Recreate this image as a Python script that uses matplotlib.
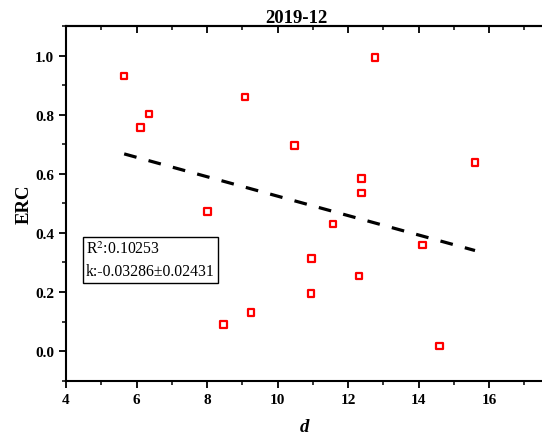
import matplotlib
matplotlib.use("Agg")
import matplotlib.pyplot as plt
from matplotlib.ticker import MultipleLocator
import numpy as np

plt.rcParams['font.family'] = ['Liberation Serif', 'DejaVu Serif']
plt.rcParams['mathtext.fontset'] = 'stix'

# data
d = [5.65, 6.12, 6.36, 8.01, 8.47, 9.07, 9.25, 10.48, 10.95, 10.96,
     11.57, 12.31, 12.38, 12.38, 12.77, 14.11, 14.60, 15.60]
erc = [0.931, 0.756, 0.803, 0.472, 0.090, 0.860, 0.130, 0.696, 0.195, 0.314,
       0.430, 0.254, 0.584, 0.535, 0.994, 0.359, 0.017, 0.639]

fit_k = -0.03286
fit_b = 0.853
r2_text = "R$^2$:0.10253"
k_text = "k:-0.03286\u00b10.02431"
title = "2019-12"

fig = plt.figure(figsize=(5.42, 4.35), dpi=100)
ax = fig.add_axes([66 / 542, 53.3 / 435, 476 / 542, 354.7 / 435])

ax.scatter(d, erc, marker='s', s=22, facecolors='none', edgecolors='red',
           linewidths=1.6, zorder=3)

xs = np.array([min(d), max(d)])
ax.plot(xs, fit_k * xs + fit_b, color='black', lw=2.3, ls=(0, (4.0, 3.9)),
        zorder=2)

ax.set_xlim(4, 17.5)
ax.set_ylim(-0.1, 1.1)
ax.xaxis.set_major_locator(MultipleLocator(2))
ax.xaxis.set_minor_locator(MultipleLocator(1))
ax.yaxis.set_major_locator(MultipleLocator(0.2))
ax.yaxis.set_minor_locator(MultipleLocator(0.1))
ax.tick_params(which='major', direction='out', length=5, width=1.3,
               labelsize=11)
ax.tick_params(which='minor', direction='out', length=3, width=1.1)
for lab in ax.get_xticklabels() + ax.get_yticklabels():
    lab.set_fontweight('bold')

top = ax.secondary_xaxis('top')
top.xaxis.set_major_locator(MultipleLocator(2))
top.xaxis.set_minor_locator(MultipleLocator(1))
top.tick_params(which='major', direction='in', length=5, width=1.3,
                labeltop=False)
top.tick_params(which='minor', direction='in', length=3, width=1.1)
top.spines['top'].set_linewidth(1.5)

for s in ['left', 'bottom', 'top']:
    ax.spines[s].set_linewidth(1.5)
ax.spines['right'].set_visible(False)

ax.set_title(title, fontsize=13.5, fontweight='bold', pad=3, x=0.483)
ax.set_ylabel("ERC", fontsize=13.5, fontweight='bold', labelpad=2)
ax.set_xlabel("d", fontsize=13.5, fontweight='bold', style='italic',
              labelpad=9)

ax.text(0.042, 0.396, r2_text + "\n" + k_text, transform=ax.transAxes,
        fontsize=11.3, va='top', ha='left', linespacing=1.55,
        bbox=dict(boxstyle='square,pad=0.22', fc='white', ec='black', lw=1))

fig.savefig("out.png", dpi=100)
